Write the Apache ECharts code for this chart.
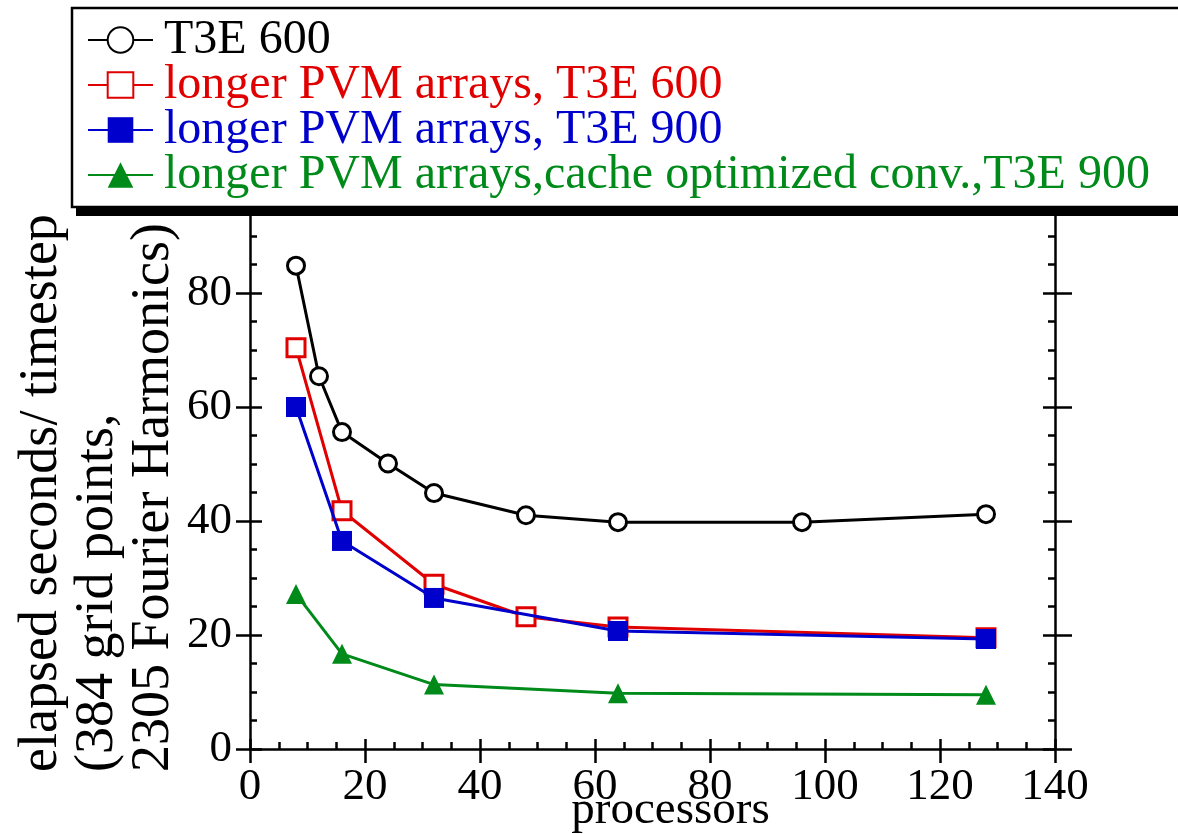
<!DOCTYPE html>
<html>
<head>
<meta charset="utf-8">
<script src="https://cdn.jsdelivr.net/npm/echarts@6/dist/echarts.min.js"></script>
<style>
  html, body { margin: 0; padding: 0; background: #fff; }
  #chart { width: 1178px; height: 834px; }
</style>
</head>
<body>
<div id="chart"></div>
<script>
// Elapsed time per timestep vs processors

const FONT = "'Liberation Serif', 'Times New Roman', serif";

// processor counts for each curve
const procT3E600 = [8, 12, 16, 24, 32, 48, 64, 96, 128];
const procPvm600 = [8, 16, 32, 48, 64, 128];
const procPvm900 = [8, 16, 32, 64, 128];
const procCache900 = [8, 16, 32, 64, 128];

// elapsed seconds / timestep
const t3e600 = [84.8, 65.4, 55.6, 50.1, 44.9, 41.0, 39.8, 39.8, 41.2];
const pvm600 = [70.4, 41.8, 28.9, 23.2, 21.4, 19.5];
const pvm900 = [60.0, 36.5, 26.5, 20.7, 19.3];
const cache900 = [27.2, 16.7, 11.3, 9.8, 9.5];

const seriesNames = [
  "T3E 600",
  "longer PVM arrays, T3E 600",
  "longer PVM arrays, T3E 900",
  "longer PVM arrays,cache optimized conv.,T3E 900"
];
const seriesColors = ["#000000", "#e00000", "#0000cc", "#008a1a"];

const xTicks = { min: 0, max: 140, interval: 20 };
const yTicks = { min: 0, max: 100, interval: 20 };

let pairs = (xs, ys) => xs.map((x, i) => [x, ys[i]]);

let chart = echarts.init(document.getElementById("chart"));

// axis helpers: two copies per side so major ticks cross the line
let makeX = (inside, withLabels) => ({
  type: "value",
  position: "bottom",
  min: xTicks.min, max: xTicks.max, interval: xTicks.interval,
  axisLine: { show: withLabels, lineStyle: { color: "#000", width: 2.5 } },
  axisTick: { show: true, inside: inside, length: inside ? 10 : 14, lineStyle: { color: "#000", width: 2.5 } },
  minorTick: { show: inside, splitNumber: 4, length: 7, lineStyle: { color: "#000", width: 2.5 } },
  axisLabel: withLabels ? { show: true, margin: 16, color: "#000", fontFamily: FONT, fontSize: 45 } : { show: false },
  splitLine: { show: false },
  name: withLabels ? "processors" : "",
  nameLocation: "middle",
  nameGap: 38,
  nameMoveOverlap: false,
  nameTextStyle: { color: "#000", fontFamily: FONT, fontSize: 47, padding: [0, 0, 0, 36] }
});

let makeY = (pos, inside, withLabels) => ({
  type: "value",
  position: pos,
  min: yTicks.min, max: yTicks.max, interval: yTicks.interval,
  axisLine: { show: !inside || withLabels, onZero: false, lineStyle: { color: "#000", width: 2.5 } },
  axisTick: { show: true, inside: inside, length: pos === "right" && !inside ? 17 : (inside ? 12 : 14), lineStyle: { color: "#000", width: 2.5 } },
  minorTick: { show: inside, splitNumber: 4, length: 7, lineStyle: { color: "#000", width: 2.5 } },
  axisLabel: withLabels ? { show: true, margin: 18, color: "#000", fontFamily: FONT, fontSize: 45 } : { show: false },
  splitLine: { show: false }
});

let lineSeries = (idx, data, symbol, size, filled) => ({
  name: seriesNames[idx],
  type: "line",
  data: data,
  symbol: symbol,
  symbolSize: size,
  showAllSymbol: true,
  z: 2 + idx,
  lineStyle: { color: seriesColors[idx], width: 3 },
  itemStyle: {
    color: filled ? seriesColors[idx] : "#fff",
    borderColor: seriesColors[idx],
    borderWidth: filled ? 0 : 3
  },
  emphasis: { disabled: true },
  animation: false
});

let option = {
  backgroundColor: "#fff",
  animation: false,
  grid: { left: 250, right: 123, top: 179, bottom: 85, containLabel: false, outerBoundsMode: "none" },
  xAxis: [makeX(false, true), makeX(true, false)],
  yAxis: [
    makeY("left", false, true),
    makeY("left", true, false),
    makeY("right", true, false),
    makeY("right", false, false)
  ],
  legend: {
    orient: "vertical",
    left: 87,
    top: 16,
    padding: 0,
    itemGap: -3,
    itemWidth: 65,
    itemHeight: 32,
    selectedMode: false,
    z: 30,
    textStyle: { fontFamily: FONT, fontSize: 48, lineHeight: 45, padding: [0, 0, 0, 6] },
    data: seriesNames.map((n, i) => ({ name: n, textStyle: { color: seriesColors[i] } }))
  },
  graphic: [
    // legend box shadow
    { type: "rect", z: 20, shape: { x: 76, y: 16, width: 1200, height: 200 }, style: { fill: "#000" } },
    // legend box
    { type: "rect", z: 21, shape: { x: 72, y: 8, width: 1200, height: 199 }, style: { fill: "#fff", stroke: "#000", lineWidth: 2.5 } },
    // y axis title, three rotated lines
    {
      type: "text",
      z: 22,
      x: 14,
      y: 772,
      rotation: Math.PI / 2,
      style: {
        text: "elapsed seconds/ timestep\n(384 grid points,\n2305 Fourier Harmonics)",
        fontFamily: FONT,
        fontSize: 54,
        lineHeight: 56,
        fill: "#000",
        align: "left",
        verticalAlign: "top"
      }
    }
  ],
  series: [
    lineSeries(0, pairs(procT3E600, t3e600), "circle", 17, false),
    lineSeries(1, pairs(procPvm600, pvm600), "rect", 18, false),
    lineSeries(2, pairs(procPvm900, pvm900), "rect", 20, true),
    lineSeries(3, pairs(procCache900, cache900), "triangle", 20, true)
  ]
};

chart.setOption(option);
</script>
</body>
</html>
